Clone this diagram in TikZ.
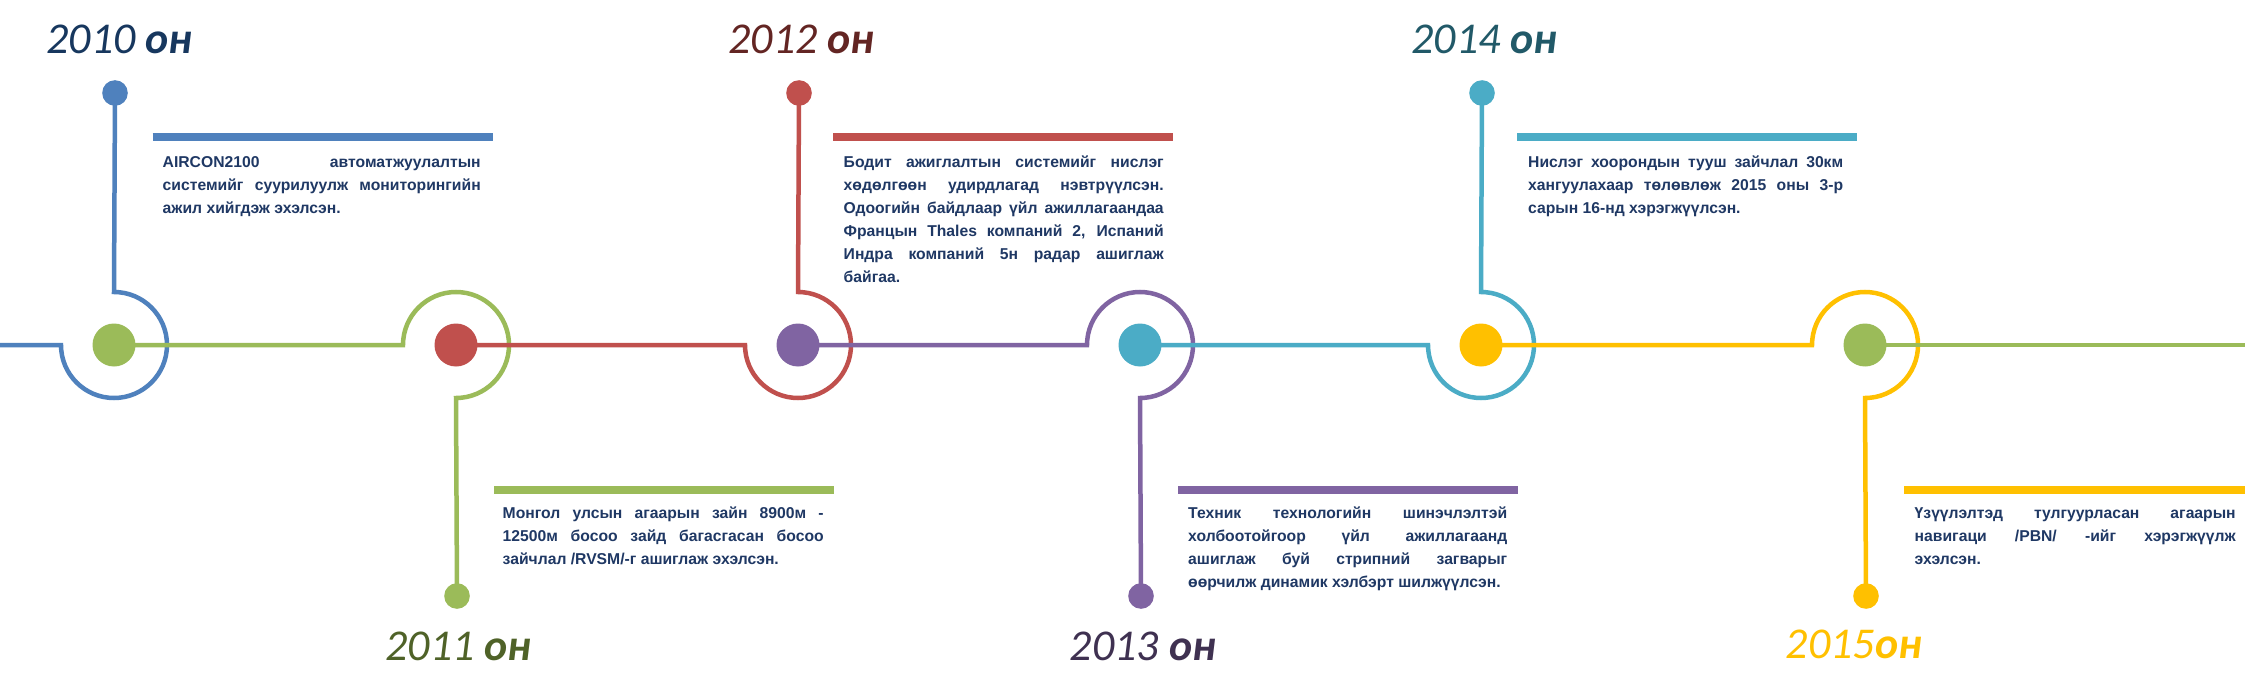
\documentclass[tikz,border=0pt]{standalone}
\usepackage{fontspec}
\setmainfont{Liberation Sans}
\newfontfamily\labelfont{Carlito}
\usetikzlibrary{calc,backgrounds}
\definecolor{cBlue}{HTML}{4F81BD}
\definecolor{cGreen}{HTML}{9BBB59}
\definecolor{cRed}{HTML}{C0504D}
\definecolor{cPurple}{HTML}{8064A2}
\definecolor{cAqua}{HTML}{4BACC6}
\definecolor{cGold}{HTML}{FFC000}
\definecolor{cText}{HTML}{1F3864}
\definecolor{lBlue}{HTML}{17375E}
\definecolor{lGreen}{HTML}{4F6228}
\definecolor{lRed}{HTML}{632523}
\definecolor{lPurple}{HTML}{3F3151}
\definecolor{lAqua}{HTML}{215968}
\newcommand\jl[2]{\makebox[#1][s]{#2}}
\tikzset{
  track/.style={line width=4.5pt, line join=miter},
  bigdot/.style={circle, inner sep=0pt, minimum size=43pt},
  smalldot/.style={circle, inner sep=0pt, minimum size=25.6pt},
  bar/.style={line width=7.5pt},
  body/.style={font=\bfseries\fontsize{15.7}{23}\selectfont, text=cText, inner sep=0pt, anchor=north west, align=left},
  yearlab/.style={font=\labelfont\itshape\fontsize{44}{44}\selectfont, anchor=base, inner sep=0pt}
}
\begin{document}
\begin{tikzpicture}[x=1pt,y=1pt]
\useasboundingbox (0,0) rectangle (2245,-679);
% main dots
\node[bigdot, fill=cGreen]  (d0) at (114,-345) {};
\node[bigdot, fill=cRed]    (d1) at (456,-345) {};
\node[bigdot, fill=cPurple] (d2) at (798,-345) {};
\node[bigdot, fill=cAqua]   (d3) at (1140,-345) {};
\node[bigdot, fill=cGold]   (d4) at (1481,-345) {};
\node[bigdot, fill=cGreen]  (d5) at (1865,-345) {};
% end dots
\node[smalldot, fill=cBlue]   (t0) at (115,-93) {};
\node[smalldot, fill=cGreen]  (b1) at (457,-596) {};
\node[smalldot, fill=cRed]    (t2) at (799,-93) {};
\node[smalldot, fill=cPurple] (b3) at (1141,-596) {};
\node[smalldot, fill=cAqua]   (t4) at (1482,-93) {};
\node[smalldot, fill=cGold]   (b5) at (1866,-596) {};
\coordinate (L) at (0,-345);
\coordinate (R) at (2250,-345);
\begin{scope}[on background layer]
\fill[white] (0,0) rectangle (2245,-679);
\draw[track, cBlue] (L) -- ($(d0.center)+(-53,0)$) arc[start angle=180, end angle=450, radius=53pt] -- (t0.center);
\draw[track, cGreen] (d0.center) -- ($(d1.center)+(-53,0)$) arc[start angle=180, end angle=-90, radius=53pt] -- (b1.center);
\draw[track, cRed] (d1.center) -- ($(d2.center)+(-53,0)$) arc[start angle=180, end angle=450, radius=53pt] -- (t2.center);
\draw[track, cPurple] (d2.center) -- ($(d3.center)+(-53,0)$) arc[start angle=180, end angle=-90, radius=53pt] -- (b3.center);
\draw[track, cAqua] (d3.center) -- ($(d4.center)+(-53,0)$) arc[start angle=180, end angle=450, radius=53pt] -- (t4.center);
\draw[track, cGold] (d4.center) -- ($(d5.center)+(-53,0)$) arc[start angle=180, end angle=-90, radius=53pt] -- (b5.center);
\draw[track, cGreen] (d5.center) -- (R);
\end{scope}
% bars
\draw[bar, cBlue]   (152.5,-137) -- ++(340,0);
\draw[bar, cGreen]  (494,-490) -- ++(340,0);
\draw[bar, cRed]    (833,-137) -- ++(340,0);
\draw[bar, cPurple] (1178,-490) -- ++(340,0);
\draw[bar, cAqua]   (1517,-137) -- ++(340,0);
\draw[bar, cGold]   (1904,-490) -- ++(350,0);
% texts
\node[body] (x0) at (162.5,-154) {\rule{0pt}{13pt}\jl{318pt}{AIRCON2100 автоматжуулалтын}\\
\jl{318pt}{системийг суурилуулж мониторингийн}\\
ажил хийгдэж эхэлсэн.};
\node[body] (x1) at (502.5,-505.5) {\rule{0pt}{13pt}\jl{321pt}{Монгол улсын агаарын зайн 8900м -}\\
\jl{321pt}{12500м босоо зайд багасгасан босоо}\\
зайчлал /RVSM/-г ашиглаж эхэлсэн.};
\node[body] (x2) at (843.5,-154) {\rule{0pt}{13pt}\jl{320pt}{Бодит ажиглалтын системийг нислэг}\\
\jl{320pt}{хөдөлгөөн удирдлагад нэвтрүүлсэн.}\\
\jl{320pt}{Одоогийн байдлаар үйл ажиллагаандаа}\\
\jl{320pt}{Францын Thales компаний 2, Испаний}\\
\jl{320pt}{Индра компаний 5н радар ашиглаж}\\
байгаа.};
\node[body] (x3) at (1188,-505.5) {\rule{0pt}{13pt}\jl{319pt}{Техник технологийн шинэчлэлтэй}\\
\jl{319pt}{холбоотойгоор үйл ажиллагаанд}\\
\jl{319pt}{ашиглаж буй стрипний загварыг}\\
өөрчилж динамик хэлбэрт шилжүүлсэн.};
\node[body] (x4) at (1528,-154) {\rule{0pt}{13pt}\jl{315pt}{Нислэг хоорондын тууш зайчлал 30км}\\
\jl{315pt}{хангуулахаар төлөвлөж 2015 оны 3-р}\\
сарын 16-нд хэрэгжүүлсэн.};
\node[body] (x5) at (1914.5,-505.5) {\rule{0pt}{13pt}\jl{321pt}{Үзүүлэлтэд тулгуурласан агаарын}\\
\jl{321pt}{навигаци /PBN/ -ийг хэрэгжүүлж}\\
эхэлсэн.};
% year labels
\node[yearlab, text=lBlue]   (y0) at (119.5,-54) {2010 {\bfseries он}};
\node[yearlab, text=lGreen]  (y1) at (458.5,-660) {2011 {\bfseries он}};
\node[yearlab, text=lRed]    (y2) at (801.5,-54) {2012 {\bfseries он}};
\node[yearlab, text=lPurple] (y3) at (1143,-660) {2013 {\bfseries он}};
\node[yearlab, text=lAqua]   (y4) at (1484.5,-54) {2014 {\bfseries он}};
\node[yearlab, text=cGold]   (y5) at (1854,-658) {2015{\bfseries он}};
\end{tikzpicture}
\end{document}
